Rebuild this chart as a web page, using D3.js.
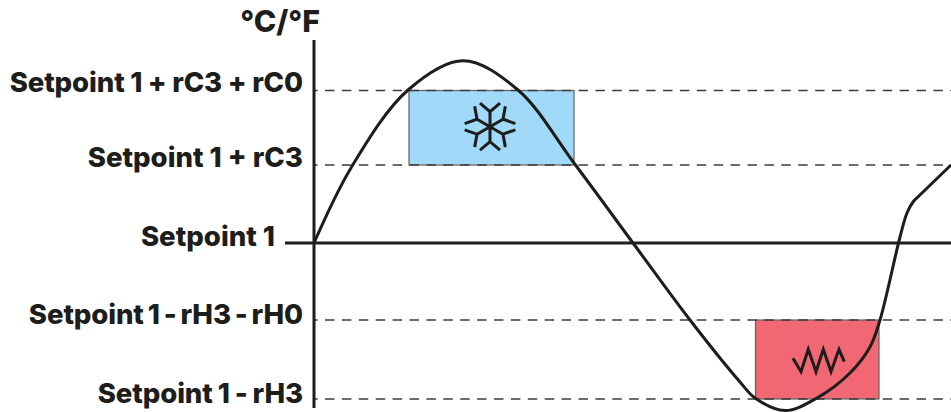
<!DOCTYPE html>
<html><head><meta charset="utf-8">
<style>html,body{margin:0;padding:0;background:#fff}svg{display:block}text{font-family:Inter,"Liberation Sans",sans-serif;font-weight:800;fill:#1d1d1b}</style>
<script src="https://cdn.jsdelivr.net/npm/d3@7"></script></head><body><svg id="c" width="951" height="412"></svg>
<script>
const levelLabels=["Setpoint 1 + rC3 + rC0","Setpoint 1 + rC3","Setpoint 1","Setpoint 1 - rH3 - rH0","Setpoint 1 - rH3"];
const levelValues=[15.25,7.8,0,-7.7,-15.6];
const unitLabel="°C/°F";
const curveX=[0,3.77,9.4,14.9,20.4,26,31.9,37.6,42.6,44.1,47.1,50.3,53.6,55.6,56.6,58.6,59.3,59.9,60.8,63.7];
const curveY=[0,7.63,15.3,18.23,15.3,8,0,-7.7,-13.9,-15.5,-16.75,-15.5,-13,-10.4,-7.7,0.6,3,4.1,5,7.8];
const zones=[{x0:9.5,x1:26,top:15.25,bottom:7.8,color:"#a1d9f8"},{x0:44.15,x1:56.5,top:-7.7,bottom:-15.6,color:"#f16874"}];
const ink="#1d1d1b";
const x=d3.scaleLinear().domain([0,63.7]).range([314,951]);
const y=d3.scaleLinear().domain([-15.6,15.25]).range([399,90.5]);
const svg=d3.select("#c");
svg.selectAll("rect.z").data(zones).join("rect").attr("class","z")
 .attr("x",d=>x(d.x0)).attr("width",d=>x(d.x1)-x(d.x0))
 .attr("y",d=>y(d.top)).attr("height",d=>y(d.bottom)-y(d.top))
 .attr("fill",d=>d.color).attr("stroke","#5f6062").attr("stroke-width",1.2);
svg.selectAll("line.lv").data(levelValues.filter(v=>v!==0)).join("line").attr("class","lv")
 .attr("x1",x(-0.1)).attr("x2",951).attr("y1",d=>y(d)).attr("y2",d=>y(d))
 .attr("stroke","#3c3c3b").attr("stroke-width",1.4).attr("stroke-dasharray","9.5 7.4").attr("stroke-dashoffset",-12);
svg.append("line").attr("x1",285).attr("x2",951).attr("y1",y(0)).attr("y2",y(0)).attr("stroke",ink).attr("stroke-width",3);
svg.append("line").attr("x1",x(0)).attr("x2",x(0)).attr("y1",40).attr("y2",408).attr("stroke",ink).attr("stroke-width",3);
svg.append("path").attr("d",d3.line().x(d=>x(d)).y((d,i)=>y(curveY[i])).curve(d3.curveCatmullRom.alpha(.5))(curveX))
 .attr("fill","none").attr("stroke",ink).attr("stroke-width",3);
const lx=[303,303,275,303,303], dy=[1.5,1.7,3,4,4], ws=[-0.3,0,0,-2,-1], ls=[-0.12,0,0,-0.12,-0.1];
svg.selectAll("text.lb").data(levelLabels).join("text").attr("class","lb")
 .attr("x",(d,i)=>lx[i]).attr("y",(d,i)=>y(levelValues[i])+dy[i]).attr("text-anchor","end").attr("font-size",27.6)
 .attr("word-spacing",(d,i)=>ws[i]).attr("letter-spacing",(d,i)=>ls[i]).text(d=>d);
svg.append("text").attr("x",320).attr("y",32).attr("text-anchor","end").attr("font-size",30.3).text(unitLabel);
const fl=svg.append("g").attr("transform","translate(490,126.7)").attr("fill","none").attr("stroke",ink).attr("stroke-width",3);
d3.range(6).forEach(i=>fl.append("path").attr("transform",`rotate(${i*60})`).attr("d","M0 0V-15M-10 -23.5L0 -15L10 -23.5"));
const zig=[[793,358.3],[801,371.7],[808.3,349.3],[816,371.7],[823.3,349.3],[831,371.7],[839,349.3],[844.3,361.7]];
svg.append("path").attr("d",d3.line()(zig)).attr("fill","none").attr("stroke",ink).attr("stroke-width",3);
</script></body></html>
